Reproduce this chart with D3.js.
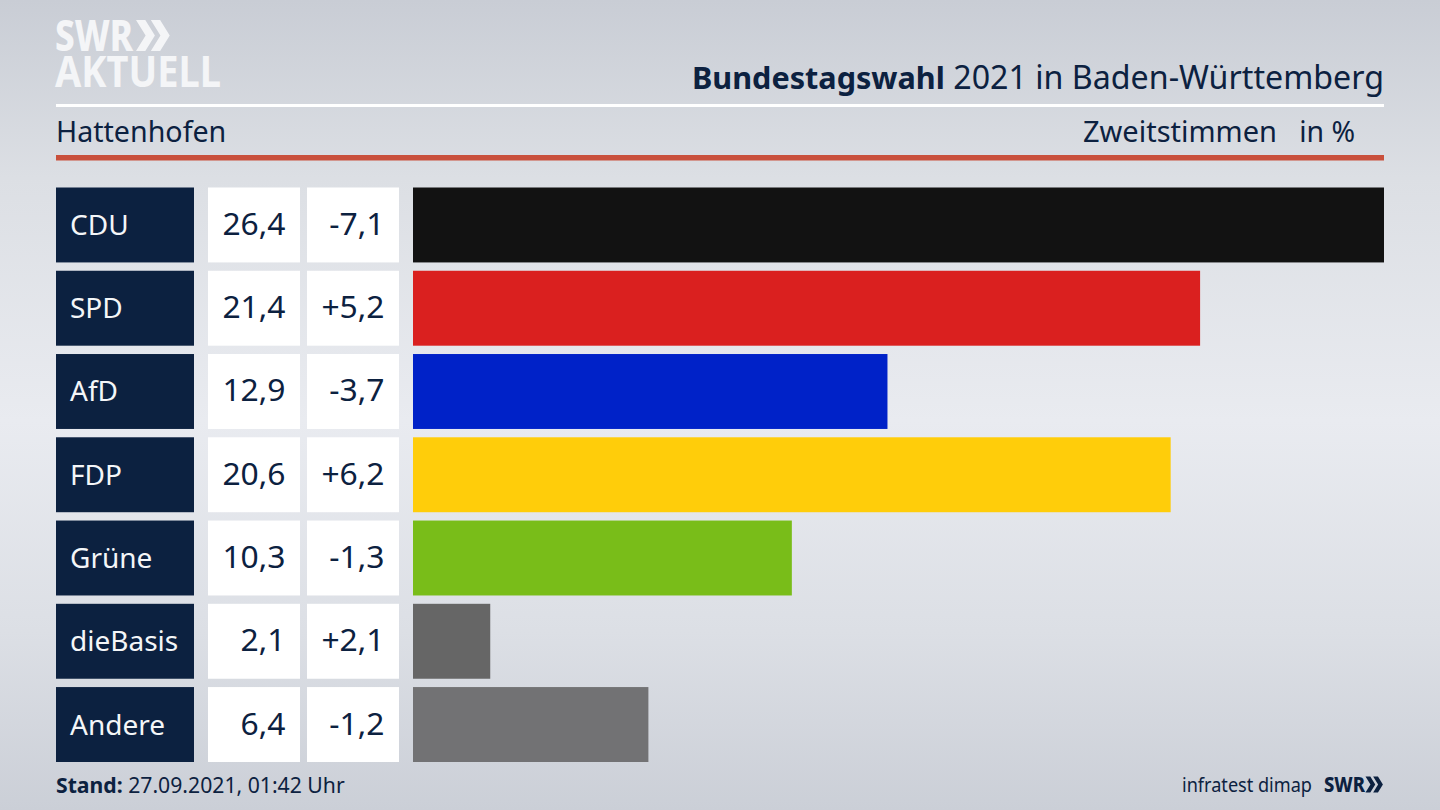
<!DOCTYPE html>
<html>
<head>
<meta charset="utf-8">
<script src="https://cdn.jsdelivr.net/npm/d3@7"></script>
<style>
html, body { margin: 0; padding: 0; width: 1440px; height: 810px; overflow: hidden; }
svg { display: block; }
text { font-family: "Noto Sans", sans-serif; }
</style>
</head>
<body>
<div id="chart"></div>
<script>
const parties = ["CDU", "SPD", "AfD", "FDP", "Grüne", "dieBasis", "Andere"];
const shares = [26.4, 21.4, 12.9, 20.6, 10.3, 2.1, 6.4];
const changes = [-7.1, 5.2, -3.7, 6.2, -1.3, 2.1, -1.2];
const barColors = ["#121212", "#da201f", "#0022c8", "#ffcd0a", "#79bd19", "#666666", "#727274"];

const navy = "#0c2140";
const width = 1440, height = 810;

const fmt = v => v.toFixed(1).replace(".", ",");
const fmtChange = v => (v > 0 ? "+" : "-") + fmt(Math.abs(v));

const svg = d3.select("#chart").append("svg")
    .attr("width", width)
    .attr("height", height);

// background
const defs = svg.append("defs");
const bg = defs.append("linearGradient")
    .attr("id", "bgGradient")
    .attr("x1", "0%").attr("y1", "0%")
    .attr("x2", "0%").attr("y2", "100%");
bg.append("stop").attr("offset", "0%").attr("stop-color", "#c9cdd5");
bg.append("stop").attr("offset", "22%").attr("stop-color", "#dcdfe4");
bg.append("stop").attr("offset", "52%").attr("stop-color", "#e9ebf0");
bg.append("stop").attr("offset", "78%").attr("stop-color", "#dcdfe5");
bg.append("stop").attr("offset", "100%").attr("stop-color", "#cbcfd7");
svg.append("rect").attr("width", width).attr("height", height).style("fill", "url(#bgGradient)");

// logo top left
function chevrons(g, x, y, h, color) {
    const w = h * 0.52, t = h * 0.3;
    [0, w * 0.92].forEach(dx => {
        g.append("polygon")
            .attr("points", [
                [x + dx, y], [x + dx + t, y], [x + dx + w + t * 0.3, y + h / 2],
                [x + dx + t, y + h], [x + dx, y + h], [x + dx + w - t * 0.7, y + h / 2]
            ].join(" "))
            .attr("fill", color);
    });
}
const logo = svg.append("g");
logo.append("text").attr("x", 55).attr("y", 51)
    .attr("font-size", 43).attr("font-weight", 800).attr("fill", "#f4f5f7")
    .attr("textLength", 78).attr("lengthAdjust", "spacingAndGlyphs")
    .text("SWR");
chevrons(logo, 136, 20, 31, "#f4f5f7");
logo.append("text").attr("x", 55).attr("y", 87)
    .attr("font-size", 43).attr("font-weight", 700).attr("fill", "#f4f5f7")
    .attr("textLength", 166).attr("lengthAdjust", "spacingAndGlyphs")
    .text("AKTUELL");

// header
const title = svg.append("text")
    .attr("x", 1384).attr("y", 89)
    .attr("text-anchor", "end")
    .attr("fill", navy);
title.append("tspan").attr("font-weight", 700).attr("font-size", 30.6).text("Bundestagswahl");
title.append("tspan").attr("font-size", 32.2).text(" 2021 in Baden-Württemberg");

svg.append("rect").attr("x", 56).attr("y", 104).attr("width", 1328).attr("height", 3).attr("fill", "#ffffff");
svg.append("rect").attr("x", 56).attr("y", 155).attr("width", 1328).attr("height", 5.5).attr("fill", "#c9503c");

svg.append("text").attr("x", 56).attr("y", 142)
    .attr("font-size", 28.6).attr("fill", navy).text("Hattenhofen");
svg.append("text").attr("x", 1277).attr("y", 142).attr("text-anchor", "end")
    .attr("font-size", 29).attr("fill", navy).text("Zweitstimmen");
svg.append("text").attr("x", 1355).attr("y", 142).attr("text-anchor", "end")
    .attr("font-size", 28.4).attr("fill", navy).text("in %");

// scales
const y = d3.scaleBand().domain(parties).range([187.5, 762]).paddingInner(0.1);
const x = d3.scaleLinear().domain([0, d3.max(shares)]).range([413, 1384]);

const rows = svg.selectAll("g.row")
    .data(parties)
    .enter().append("g")
    .attr("class", "row")
    .attr("transform", d => `translate(0,${y(d)})`);

const bh = y.bandwidth();
const textY = bh / 2 + 10;

rows.append("rect").attr("x", 56).attr("width", 138).attr("height", bh).attr("fill", navy);
rows.append("text").attr("x", 70).attr("y", textY)
    .attr("font-size", 28).attr("fill", "#f4f6f8")
    .text(d => d);

rows.append("rect").attr("x", 208).attr("width", 92).attr("height", bh).attr("fill", "#ffffff");
rows.append("text").attr("x", 285.5).attr("y", textY).attr("text-anchor", "end")
    .attr("font-size", 31.8).attr("fill", navy)
    .text((d, i) => fmt(shares[i]));

rows.append("rect").attr("x", 307).attr("width", 92).attr("height", bh).attr("fill", "#ffffff");
rows.append("text").attr("x", 384.5).attr("y", textY).attr("text-anchor", "end")
    .attr("font-size", 31.8).attr("fill", navy)
    .text((d, i) => fmtChange(changes[i]));

rows.append("rect")
    .attr("x", x(0))
    .attr("width", (d, i) => x(shares[i]) - x(0))
    .attr("height", bh)
    .attr("fill", (d, i) => barColors[i]);

// footer
const stand = svg.append("text").attr("x", 56).attr("y", 793)
    .attr("font-size", 21.2).attr("fill", navy);
stand.append("tspan").attr("font-weight", 700).text("Stand:");
stand.append("tspan").text(" 27.09.2021, 01:42 Uhr");

svg.append("text").attr("x", 1312).attr("y", 792).attr("text-anchor", "end")
    .attr("font-size", 20).attr("fill", navy)
    .attr("textLength", 130).attr("lengthAdjust", "spacingAndGlyphs")
    .text("infratest dimap");
svg.append("text").attr("x", 1324).attr("y", 792)
    .attr("font-size", 21).attr("font-weight", 800).attr("fill", navy)
    .attr("textLength", 41).attr("lengthAdjust", "spacingAndGlyphs")
    .text("SWR");
chevrons(svg.append("g"), 1365.5, 776.5, 16, navy);
</script>
</body>
</html>
